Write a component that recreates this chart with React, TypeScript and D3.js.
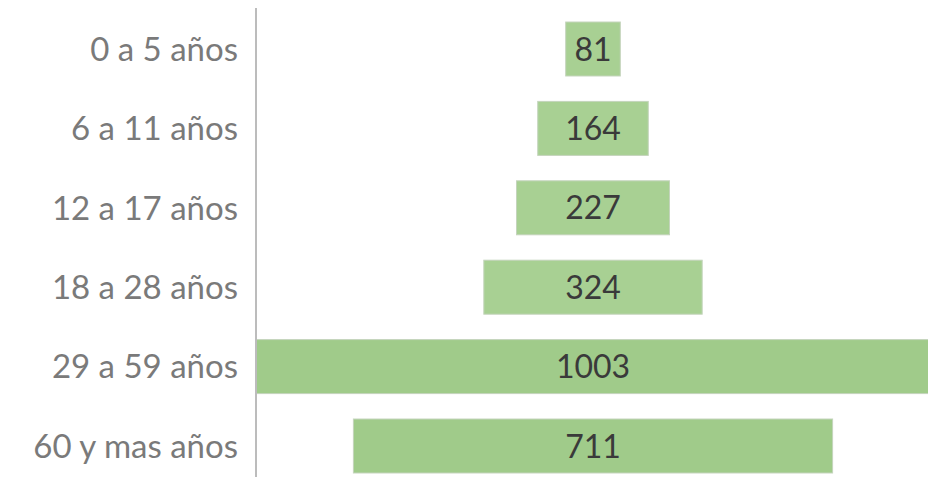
import React, { useRef, useEffect } from "react";
import * as d3 from "d3";

const categories = [
  "0 a 5 años",
  "6 a 11 años",
  "12 a 17 años",
  "18 a 28 años",
  "29 a 59 años",
  "60 y mas años",
];
const values = [81, 164, 227, 324, 1003, 711];

const FONT = "Lato, 'Open Sans', sans-serif";

const App = () => {
  const svgRef = useRef<SVGSVGElement>(null);

  useEffect(() => {
    const width = 928;
    const height = 477;
    const axisX = 256;
    const centerX = 593;

    const svg = d3.select(svgRef.current);
    svg.selectAll("*").remove();

    const data = categories.map((c, i) => ({ cat: c, value: values[i] }));

    const y = d3
      .scaleBand<string>()
      .domain(categories)
      .range([9.3, 485.7])
      .paddingInner(0.32)
      .paddingOuter(0.16);

    // half-width scale for centered (funnel) bars
    const w = d3.scaleLinear().domain([0, 1003]).range([0, 338]);

    svg
      .append("defs")
      .append("clipPath")
      .attr("id", "plot-clip")
      .append("rect")
      .attr("x", axisX + 1)
      .attr("y", 0)
      .attr("width", width - axisX - 1)
      .attr("height", height);

    // BARS
    svg
      .append("g")
      .attr("clip-path", "url(#plot-clip)")
      .selectAll("rect")
      .data(data)
      .join("rect")
      .attr("x", (d) => centerX - w(d.value))
      .attr("y", (d) => y(d.cat)!)
      .attr("width", (d) => 2 * w(d.value))
      .attr("height", y.bandwidth())
      .attr("fill", (d, i) => (i < 4 ? "#a8d093" : "#a0cb8a"))
      .attr("stroke", "#c4d4bc")
      .attr("stroke-width", 1);

    // VALUE LABELS
    svg
      .append("g")
      .selectAll("text")
      .data(data)
      .join("text")
      .attr("x", centerX)
      .attr("y", (d) => y(d.cat)! + y.bandwidth() / 2)
      .attr("dy", "0.36em")
      .attr("text-anchor", "middle")
      .attr("fill", "#3a3a3a")
      .style("font-family", FONT)
      .style("font-size", "32px")
      .text((d) => d.value);

    // CATEGORY LABELS
    svg
      .append("g")
      .selectAll("text")
      .data(data)
      .join("text")
      .attr("x", 238)
      .attr("y", (d) => y(d.cat)! + y.bandwidth() / 2)
      .attr("dy", "0.36em")
      .attr("text-anchor", "end")
      .attr("fill", "#7a7a7a")
      .style("font-family", FONT)
      .style("font-size", "33px")
      .text((d) => d.cat);

    // AXIS LINE
    svg
      .append("line")
      .attr("x1", axisX)
      .attr("x2", axisX)
      .attr("y1", 8)
      .attr("y2", height)
      .attr("stroke", "#a6a6a6")
      .attr("stroke-width", 1.5);
  }, []);

  return (
    <svg
      ref={svgRef}
      width={928}
      height={477}
      style={{ position: "absolute", left: 0, top: 0, background: "#ffffff" }}
    ></svg>
  );
};

export default App;
